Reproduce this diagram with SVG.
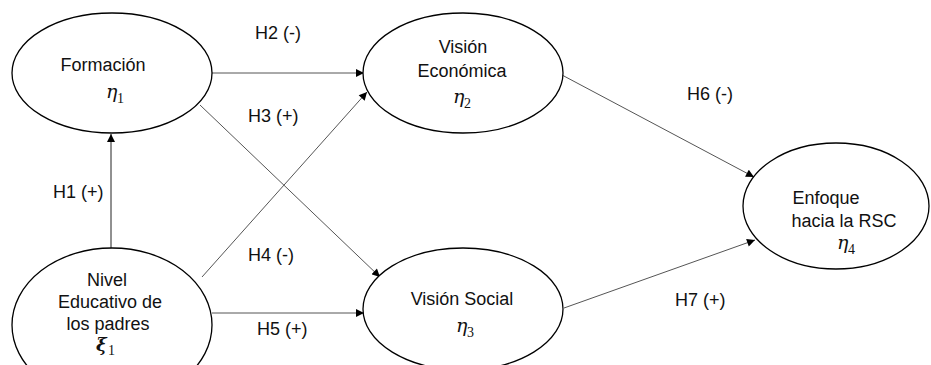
<svg xmlns="http://www.w3.org/2000/svg" width="931" height="365" viewBox="0 0 931 365">
<style>
.node ellipse{fill:#fff;stroke:#000;stroke-width:1.3}
.t{font-family:"Liberation Sans",Arial,sans-serif;font-size:18px;fill:#111;text-anchor:middle}
.g{font-family:"DejaVu Serif","Liberation Serif",serif;font-style:italic;font-size:19px;fill:#111}
.s{font-family:"Liberation Serif","DejaVu Serif",serif;font-size:14px;fill:#111}
.lab{font-family:"Liberation Sans",Arial,sans-serif;font-size:18px;fill:#111}
.e{stroke:#555;stroke-width:1;fill:none;marker-end:url(#ah)}
</style>
<defs>
<marker id="ah" viewBox="0 0 10 10" refX="10" refY="5" markerWidth="9" markerHeight="8" markerUnits="userSpaceOnUse" orient="auto">
<path d="M0,0 L10,5 L0,10 z" fill="#000"/>
</marker>
</defs>
<rect width="931" height="365" fill="#fff"/>
<g id="connectors">
<line class="e" x1="111" y1="248" x2="111" y2="134" style="stroke:#222"/>
<line class="e" x1="212" y1="73" x2="364" y2="73"/>
<line class="e" x1="200" y1="105" x2="380" y2="277"/>
<line class="e" x1="202" y1="277" x2="367" y2="92"/>
<line class="e" x1="212" y1="313" x2="364" y2="313"/>
<line class="e" x1="562" y1="75" x2="754" y2="177"/>
<line class="e" x1="564" y1="308" x2="755" y2="240"/>
</g>
<g id="labels">
<text class="lab" x="53" y="198">H1 (+)</text>
<text class="lab" x="255" y="39">H2 (-)</text>
<text class="lab" x="248" y="122">H3 (+)</text>
<text class="lab" x="248" y="261">H4 (-)</text>
<text class="lab" x="257" y="335">H5 (+)</text>
<text class="lab" x="687" y="100">H6 (-)</text>
<text class="lab" x="675" y="306">H7 (+)</text>
</g>
<g id="formacion" class="node">
<ellipse cx="112" cy="73" rx="100" ry="60"/>
<text class="t" x="103" y="71">Formación</text>
<text class="g" x="106" y="98">η</text><text class="s" x="117" y="103">1</text>
</g>
<g id="nivel" class="node">
<ellipse cx="112" cy="325" rx="100" ry="77"/>
<text class="t" x="107" y="286">Nivel</text>
<text class="t" x="110" y="308">Educativo de</text>
<text class="t" x="108" y="330">los padres</text>
<text x="96" y="351" style="font-family:'DejaVu Serif',serif;font-style:italic;font-weight:bold;font-size:18px;fill:#111">ξ</text><text class="s" x="108" y="355">1</text>
</g>
<g id="vision-economica" class="node">
<ellipse cx="463" cy="73" rx="100" ry="60"/>
<text class="t" x="463" y="53">Visión</text>
<text class="t" x="462" y="77">Económica</text>
<text class="g" x="453" y="103">η</text><text class="s" x="464" y="108">2</text>
</g>
<g id="vision-social" class="node">
<ellipse cx="463" cy="309" rx="100" ry="61"/>
<text class="t" x="462" y="305">Visión Social</text>
<text class="g" x="456" y="332">η</text><text class="s" x="467" y="337">3</text>
</g>
<g id="enfoque" class="node">
<ellipse cx="836" cy="206" rx="93" ry="63"/>
<text class="t" x="826" y="204">Enfoque</text>
<text class="t" x="844" y="227">hacia la RSC</text>
<text class="g" x="837" y="249">η</text><text class="s" x="848" y="254">4</text>
</g>
</svg>
